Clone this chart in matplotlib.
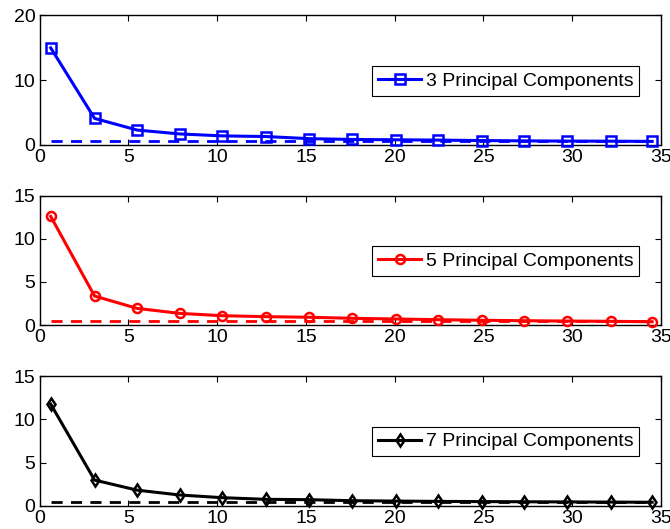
import numpy as np
import matplotlib
matplotlib.use("Agg")
import matplotlib.pyplot as plt

plt.rcParams['font.family'] = ['Liberation Sans', 'DejaVu Sans']
plt.rcParams['font.size'] = 14

# iteration positions (shared by all three panels)
x = [0.63, 3.1, 5.5, 7.9, 10.3, 12.75, 15.2, 17.6, 20.05, 22.45, 24.9, 27.3, 29.7, 32.2, 34.5]

pc3 = [15.0, 4.1, 2.3, 1.7, 1.4, 1.3, 0.97, 0.85, 0.8, 0.75, 0.68, 0.63, 0.6, 0.58, 0.55]
pc5 = [12.6, 3.36, 1.93, 1.35, 1.08, 0.97, 0.9, 0.78, 0.7, 0.62, 0.55, 0.5, 0.46, 0.43, 0.38]
pc7 = [11.76, 2.97, 1.8, 1.24, 0.93, 0.74, 0.7, 0.58, 0.54, 0.5, 0.48, 0.46, 0.44, 0.42, 0.4]

base3 = 0.55
base5 = 0.42
base7 = 0.42

labels = ["3 Principal Components", "5 Principal Components", "7 Principal Components"]
colors = ["#0000ff", "#ff0000", "#000000"]
markers = ["s", "o", "d"]
ylims = [20, 15, 15]
yticks = [[0, 10, 20], [0, 5, 10, 15], [0, 5, 10, 15]]

fig = plt.figure(figsize=(6.7, 5.29), dpi=100)
# axes boxes in figure fractions [left, bottom, width, height]
boxes = [[0.059, 0.726, 0.9276, 0.2447],
         [0.059, 0.3856, 0.9276, 0.2444],
         [0.059, 0.044, 0.9276, 0.245]]

for box, y, base, lab, c, m, yl, yt in zip(boxes, [pc3, pc5, pc7], [base3, base5, base7],
                                            labels, colors, markers, ylims, yticks):
    ax = fig.add_axes(box)
    ax.plot(x, np.full(len(x), base), '--', color=c, lw=2, dashes=(4, 3))
    ax.plot(x, y, '-', color=c, lw=2.2, marker=m, ms=6.5, mfc='none', mew=1.8,
            label=lab, clip_on=False, zorder=3)
    ax.set_xlim(0, 35)
    ax.set_ylim(0, yl)
    ax.set_xticks(range(0, 36, 5))
    ax.set_yticks(yt)
    ax.tick_params(direction='in', top=True, right=True, length=4, width=0.8, pad=3)
    for s in ax.spines.values():
        s.set_linewidth(1.0)
    leg = ax.legend(loc='center right', bbox_to_anchor=(0.965, 0.495), fancybox=False,
                    edgecolor='black', framealpha=1, handlelength=2.2, borderpad=0.3,
                    handletextpad=0.25, borderaxespad=0, fontsize=14)
    leg.get_frame().set_linewidth(0.8)

fig.savefig("out.png", dpi=100)
